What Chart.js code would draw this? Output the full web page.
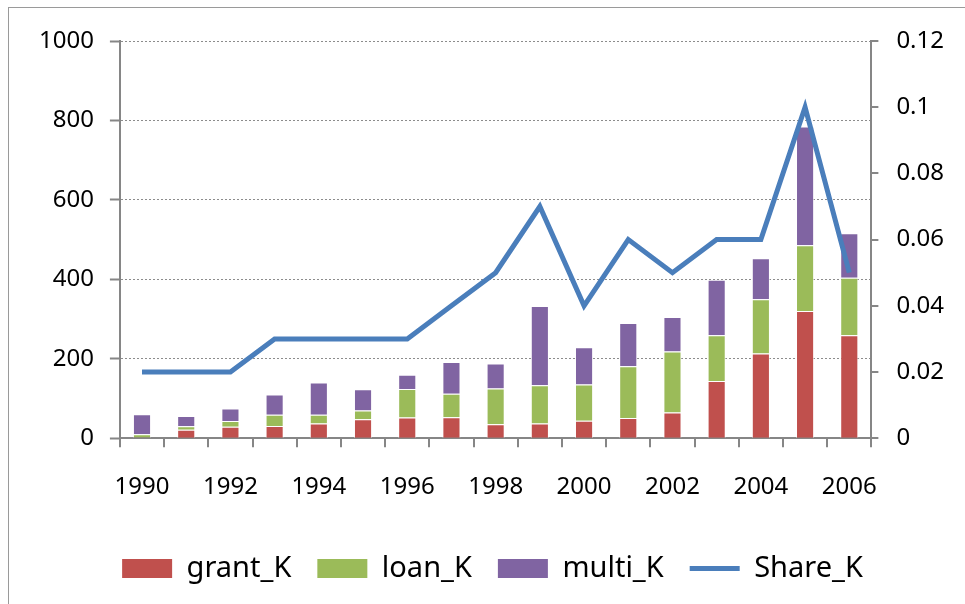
<!DOCTYPE html>
<html>
<head>
<meta charset="utf-8">
<script src="https://cdn.jsdelivr.net/npm/chart.js@4"></script>
<style>
    html, body { margin: 0; padding: 0; background: #fff; }
    #wrap { position: relative; width: 965px; height: 604px; }
    #frame { position: absolute; left: 8px; top: 7px; width: 1000px; height: 700px;
             border-left: 1px solid #9a9a9a; border-top: 1px solid #9a9a9a; }
    canvas { position: absolute; left: 0; top: 0; }
</style>
</head>
<body>
<div id="wrap">
    <div id="frame"></div>
    <canvas id="aidChart" width="965" height="604"></canvas>
</div>
<script>
const years = ['1990', '1991', '1992', '1993', '1994', '1995', '1996', '1997', '1998',
    '1999', '2000', '2001', '2002', '2003', '2004', '2005', '2006'];
const grantK = [2, 21, 29, 31, 37, 48, 52, 53, 35, 37, 44, 51, 65, 144, 213, 320, 259];
const loanK = [8, 9, 14, 28, 22, 22, 72, 59, 90, 96, 91, 130, 153, 115, 137, 166, 145];
const multiK = [50, 26, 32, 51, 81, 53, 36, 80, 63, 200, 94, 109, 87, 140, 103, 299, 112];
const shareK = [0.02, 0.02, 0.02, 0.03, 0.03, 0.03, 0.03, 0.04, 0.05, 0.07, 0.04, 0.06,
    0.05, 0.06, 0.06, 0.10, 0.05];
const leftTicks = [0, 200, 400, 600, 800, 1000];
const rightTicks = [0, 0.02, 0.04, 0.06, 0.08, 0.1, 0.12];

document.addEventListener('DOMContentLoaded', () => {
    const ctx = document.getElementById('aidChart').getContext('2d');
    const axisColor = '#868686';
    const tickFont = { family: 'Noto Sans', size: 24 };

    const barSet = (label, data, color) => ({
        type: 'bar',
        label: label,
        data: data,
        backgroundColor: color,
        borderColor: 'rgba(255,255,255,0.7)',
        borderWidth: 1,
        barPercentage: 0.41,
        categoryPercentage: 1,
        yAxisID: 'y'
    });

    new Chart(ctx, {
        data: {
            labels: years,
            datasets: [
                {
                    type: 'line',
                    label: 'Share_K',
                    data: shareK,
                    borderColor: '#4a7ebb',
                    backgroundColor: '#4a7ebb',
                    borderWidth: 5,
                    pointRadius: 0,
                    tension: 0,
                    yAxisID: 'y1'
                },
                barSet('grant_K', grantK, '#c0504d'),
                barSet('loan_K', loanK, '#9bbb59'),
                barSet('multi_K', multiK, '#8064a2')
            ]
        },
        options: {
            responsive: false,
            animation: false,
            layout: {
                padding: { left: 23, right: 3, top: 41, bottom: 11 }
            },
            plugins: {
                tooltip: { enabled: false },
                legend: {
                    position: 'bottom',
                    labels: {
                        font: { family: 'Noto Sans', size: 29 },
                        color: '#000',
                        usePointStyle: true,
                        pointStyleWidth: 50,
                        boxHeight: 19,
                        padding: 26,
                        sort: (a, b) => {
                            const rank = i => (i === 0 ? 99 : i);
                            return rank(a.datasetIndex) - rank(b.datasetIndex);
                        },
                        generateLabels: chart => {
                            const items = Chart.defaults.plugins.legend.labels.generateLabels(chart);
                            items.forEach(it => {
                                if (it.datasetIndex === 0) {
                                    it.pointStyle = 'line';
                                    it.lineWidth = 5;
                                    it.strokeStyle = '#4a7ebb';
                                } else {
                                    it.pointStyle = 'rect';
                                    it.lineWidth = 0;
                                }
                            });
                            return items;
                        }
                    }
                }
            },
            scales: {
                x: {
                    stacked: true,
                    grid: {
                        drawOnChartArea: false,
                        offset: true,
                        color: axisColor,
                        lineWidth: 2,
                        tickLength: 9
                    },
                    border: { color: axisColor, width: 2 },
                    ticks: {
                        font: tickFont,
                        color: '#000',
                        padding: 26,
                        autoSkip: false,
                        maxRotation: 0,
                        callback: (v, i) => (i % 2 === 0 ? years[i] : '')
                    }
                },
                y: {
                    stacked: true,
                    position: 'left',
                    min: 0,
                    max: 1000,
                    afterBuildTicks: axis => {
                        axis.ticks = leftTicks.map(v => ({ value: v }));
                    },
                    grid: {
                        color: '#8c8c8c',
                        lineWidth: 1,
                        tickLength: 10,
                        tickColor: axisColor,
                        tickWidth: 2
                    },
                    border: { color: axisColor, width: 2, dash: [2, 2] },
                    ticks: {
                        font: tickFont,
                        color: '#000',
                        padding: 16,
                        callback: v => String(v)
                    }
                },
                y1: {
                    position: 'right',
                    min: 0,
                    max: 0.12,
                    afterBuildTicks: axis => {
                        axis.ticks = rightTicks.map(v => ({ value: v }));
                    },
                    grid: {
                        drawOnChartArea: false,
                        tickLength: 7,
                        color: axisColor,
                        lineWidth: 2
                    },
                    border: { color: axisColor, width: 2 },
                    ticks: {
                        font: tickFont,
                        color: '#000',
                        padding: 18,
                        callback: v => String(+v.toFixed(2))
                    }
                }
            }
        }
    });
});
</script>
</body>
</html>
